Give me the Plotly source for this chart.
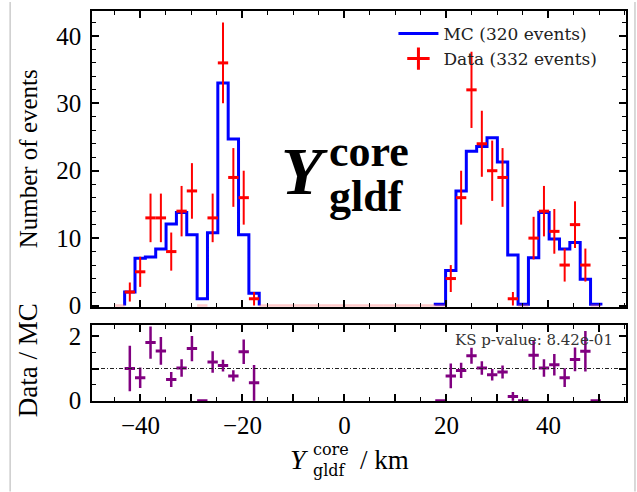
import numpy as np
import plotly.graph_objects as go

# ---- histogram definition (Y_core_gldf in km) ----
bin_start = -45.13
bin_width = 2.03

mc_counts = [0.0, 2.0, 7.0, 7.2, 8.4, 12.1, 13.8, 10.5, 1.0, 10.8, 33.0, 24.7, 10.5, 1.8,
             0, 0, 0, 0, 0, 0, 0, 0, 0, 0, 0, 0, 0, 0, 0, 0, 0,
             0.2, 5.2, 17.0, 22.9, 23.6, 24.9, 21.3, 7.5, 0.2, 7.1, 13.8, 9.85, 8.4, 9.35, 3.9, 0.2]

data_counts = [0, 2, 5, 13, 13, 8, 14, 17, 0, 13, 36, 19, 16, 1,
               0, 0, 0, 0, 0, 0, 0, 0, 0, 0, 0, 0, 0, 0, 0, 0, 0,
               0, 4, 16, 32, 24, 20, 19, 1, 0, 10, 14, 11, 6, 12, 6, 0]

mc_label = "MC (320 events)"
data_label = "Data (332 events)"
ks_text = "KS p-value: 8.42e-01"

x_range = [-49.5, 55.2]
y_range_main = [-0.22, 43.7]
y_range_ratio = [-0.01, 2.34]

x_major = [-40, -30, -20, -10, 0, 10, 20, 30, 40, 50]
x_major_text = ["\u221240", "", "\u221220", "", "0", "", "20", "", "40", ""]

mc = np.array(mc_counts, dtype=float)
dat = np.array(data_counts, dtype=float)
edges = bin_start + bin_width * np.arange(len(mc) + 1)
centers = 0.5 * (edges[:-1] + edges[1:])
half = np.full(len(mc), bin_width / 2)

# step outline of the MC histogram, one closed run per block of filled bins
step_x, step_y = [], []
i, n = 0, len(mc)
while i < n:
    if mc[i] <= 0:
        i += 1
        continue
    j = i
    step_x.append(edges[i]); step_y.append(0.0)
    while j < n and mc[j] > 0:
        step_x += [edges[j], edges[j + 1]]
        step_y += [mc[j], mc[j]]
        j += 1
    step_x.append(edges[j]); step_y.append(0.0)
    step_x.append(None); step_y.append(None)
    i = j

W, H = 637, 492
ML, MR, MT, MB = 92, 10, 9, 91
PW, PH = W - ML - MR, H - MT - MB


def fx(px):
    return (px - ML) / PW


def fy(py):
    return (H - MB - py) / PH


RED = "#ff0000"
BLUE = "#0000ff"
PURPLE = "#800080"
SERIF = "Liberation Serif"
WIDE_SERIF = "DejaVu Serif"

fig = go.Figure()

fig.add_trace(go.Scatter(
    x=step_x, y=step_y, mode="lines", name=mc_label,
    line=dict(color=BLUE, width=3), xaxis="x", yaxis="y"))

nz = dat > 0
fig.add_trace(go.Scatter(
    x=centers[~nz], y=dat[~nz], mode="markers", showlegend=False,
    marker=dict(size=0.1, color="rgba(255,0,0,0.25)"),
    error_x=dict(type="data", array=half[~nz], width=0, thickness=2.5,
                 color="rgba(255,80,80,0.3)"),
    xaxis="x", yaxis="y"))

fig.add_trace(go.Scatter(
    x=centers[nz], y=dat[nz], mode="markers", showlegend=False,
    marker=dict(size=0.1, color=RED),
    error_x=dict(type="data", array=half[nz], width=0, thickness=3, color=RED),
    error_y=dict(type="data", array=np.sqrt(dat[nz]), width=0, thickness=2, color=RED),
    xaxis="x", yaxis="y"))

# legend entry for the data points (cross glyph)
fig.add_trace(go.Scatter(
    x=[None], y=[None], mode="markers", name=data_label,
    marker=dict(symbol="cross-thin", size=20, color=RED,
                line=dict(color=RED, width=3)),
    xaxis="x", yaxis="y"))

# ratio panel
has_mc = mc > 0
ratio = dat[has_mc] / mc[has_mc]
ratio_err = np.sqrt(dat[has_mc]) / mc[has_mc]
fig.add_trace(go.Scatter(
    x=centers[has_mc], y=ratio, mode="markers", showlegend=False,
    marker=dict(size=0.1, color=PURPLE),
    error_x=dict(type="data", array=half[has_mc], width=0, thickness=3, color=PURPLE),
    error_y=dict(type="data", array=ratio_err, width=0, thickness=2.5, color=PURPLE),
    xaxis="x2", yaxis="y2"))

fig.add_trace(go.Scatter(
    x=x_range, y=[1, 1], mode="lines", showlegend=False,
    line=dict(color="#222222", width=1.2, dash="4px,2px,1px,2px"),
    xaxis="x2", yaxis="y2"))

tickfont = dict(family=SERIF, size=25, color="black")
common = dict(showline=True, linewidth=1.6, linecolor="black", mirror="ticks",
              ticks="inside", tickcolor="black", tickwidth=1.6, ticklen=7,
              showgrid=False, zeroline=False, tickfont=tickfont)

fig.update_layout(
    width=W, height=H,
    margin=dict(l=ML, r=MR, t=MT, b=MB),
    paper_bgcolor="white", plot_bgcolor="white",
    xaxis=dict(domain=[0, 1], anchor="y", range=x_range, matches="x2",
               tickmode="array", tickvals=x_major, ticktext=x_major_text,
               showticklabels=False,
               minor=dict(tickmode="linear", tick0=0, dtick=5, ticks="inside",
                          ticklen=4, tickwidth=1.2, tickcolor="black"),
               **common),
    yaxis=dict(domain=[fy(306.5), 1], anchor="x", range=y_range_main,
               tickmode="array", tickvals=[0, 10, 20, 30, 40],
               ticklabelstandoff=4,
               minor=dict(tickmode="linear", tick0=0, dtick=2, ticks="inside",
                          ticklen=4, tickwidth=1.2, tickcolor="black"),
               **common),
    xaxis2=dict(domain=[0, 1], anchor="y2", range=x_range,
                tickmode="array", tickvals=x_major, ticktext=x_major_text,
                ticklabelstandoff=1,
                minor=dict(tickmode="linear", tick0=0, dtick=5, ticks="inside",
                           ticklen=4, tickwidth=1.2, tickcolor="black"),
                **common),
    yaxis2=dict(domain=[0, fy(325)], anchor="x2", range=y_range_ratio,
                tickmode="array", tickvals=[0, 1, 2], ticktext=["0", "", "2"],
                ticklabelstandoff=4,
                minor=dict(tickmode="linear", tick0=0, dtick=0.5, ticks="inside",
                           ticklen=4, tickwidth=1.2, tickcolor="black"),
                **common),
    legend=dict(x=fx(394), y=fy(14), xanchor="left", yanchor="top",
                font=dict(family=WIDE_SERIF, size=17, color="#222222"),
                bgcolor="rgba(0,0,0,0)", itemwidth=40, tracegroupgap=0),
    showlegend=True,
)


def label(text, px, py, size, xanchor="center", family=SERIF, angle=0, color="black"):
    return dict(text=text, x=fx(px), y=fy(py), xref="paper", yref="paper",
                xanchor=xanchor, yanchor="middle", textangle=angle, showarrow=False,
                font=dict(family=family, size=size, color=color))


ann = [
    # axis titles
    label("Number of events", 28, 158, 25, angle=-90),
    label("Data / MC", 28, 360, 27, angle=-90),
    # x-axis title: Y with stacked super/subscript, then unit
    label("<i>Y</i>", 311, 460, 28, xanchor="right"),
    label("core", 311, 450, 16, xanchor="left", family=WIDE_SERIF),
    label("gldf", 311, 471, 16, xanchor="left", family=WIDE_SERIF),
    label("/ km", 358, 460, 27, xanchor="left"),
    # variable label inside the main panel
    label("<b><i>Y</i></b>", 330, 170, 68, xanchor="right"),
    label("<b>core</b>", 327, 150, 44, xanchor="left"),
    label("<b>gldf</b>", 327, 195, 44, xanchor="left"),
    # KS test result
    label(ks_text, 616, 340, 15, xanchor="right", family=WIDE_SERIF, color="#333333"),
]
fig.update_layout(annotations=ann)

# light page border lines at both sides
for px in (10, 636):
    fig.add_shape(type="line", xref="paper", yref="paper", x0=fx(px), x1=fx(px),
                  y0=fy(0), y1=fy(H), line=dict(color="#cccccc", width=1.5), layer="below")

fig.write_html("out.html")
